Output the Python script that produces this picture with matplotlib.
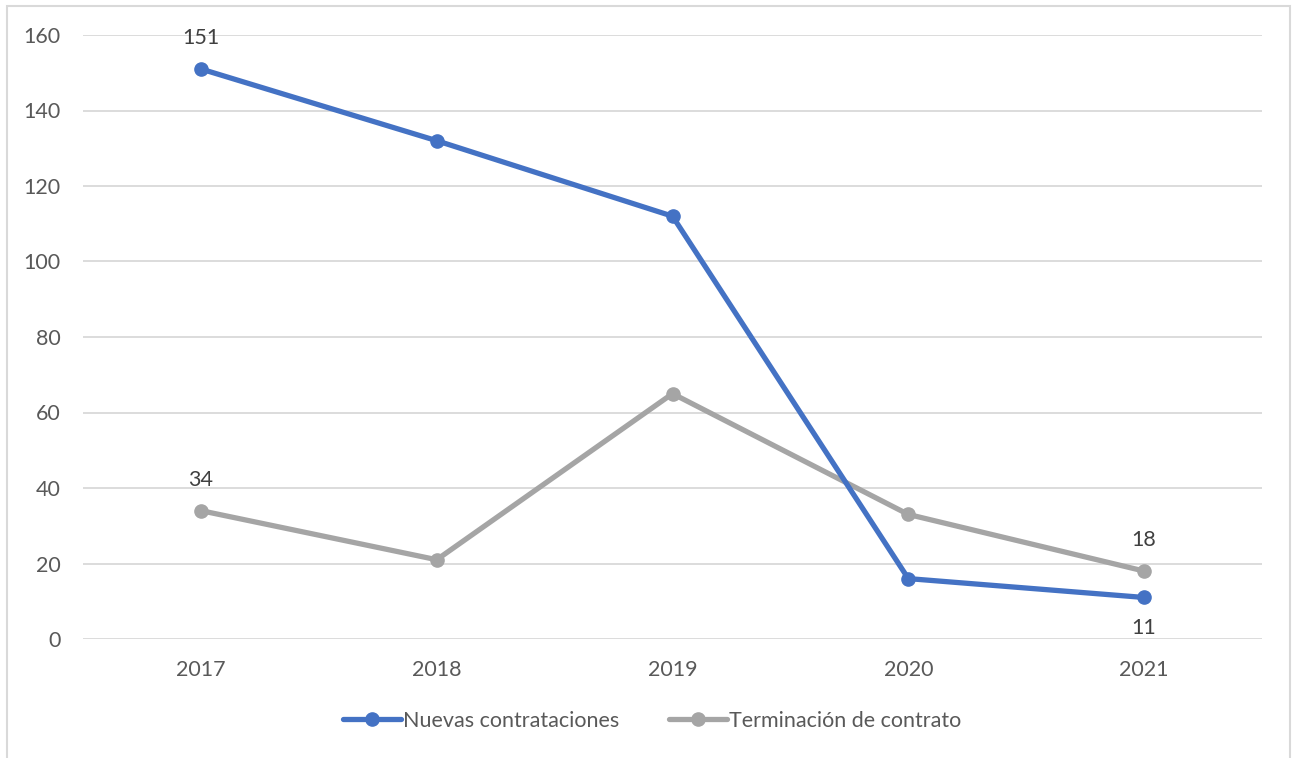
import matplotlib.pyplot as plt
from matplotlib.patches import Rectangle

# data
years = ['2017', '2018', '2019', '2020', '2021']
nuevas = [151, 132, 112, 16, 11]
terminacion = [34, 21, 65, 33, 18]

# which points carry a value label: index -> above the point?
labels_nuevas = {0: True, 4: False}
labels_term = {0: True, 4: True}

blue = '#4472C4'
gray = '#A5A5A5'
text_col = '#595959'
fs = 15.5

plt.rcParams['font.family'] = ['Lato', 'DejaVu Sans']
plt.rcParams['font.size'] = fs

fig = plt.figure(figsize=(12.92, 7.58), dpi=100)
ax = fig.add_axes([83 / 1292, 1 - 639 / 758, (1262 - 83) / 1292, (639 - 35) / 758])

x = list(range(len(years)))
ax.plot(x, nuevas, color=blue, lw=3.8, marker='o', ms=9.5, label='Nuevas contrataciones',
        solid_capstyle='round', zorder=3)
ax.plot(x, terminacion, color=gray, lw=3.8, marker='o', ms=9.5, label='Terminación de contrato',
        solid_capstyle='round', zorder=2)

for i, above in labels_nuevas.items():
    ax.annotate(str(nuevas[i]), (x[i], nuevas[i]), xytext=(0, 22 if above else -22),
                textcoords='offset points', ha='center', va='center', color='#404040', fontsize=fs)
for i, above in labels_term.items():
    ax.annotate(str(terminacion[i]), (x[i], terminacion[i]), xytext=(0, 22 if above else -22),
                textcoords='offset points', ha='center', va='center', color='#404040', fontsize=fs)

ax.set_xlim(-0.5, len(years) - 0.5)
ax.set_ylim(0, 160)
ax.set_yticks(range(0, 161, 20))
ax.set_xticks(x)
ax.set_xticklabels(years)
ax.grid(axis='y', color='#D9D9D9', lw=1.3)
ax.set_axisbelow(True)
for s in ax.spines.values():
    s.set_visible(False)
ax.tick_params(axis='both', length=0, colors=text_col, labelsize=fs)
ax.tick_params(axis='y', pad=16)
ax.tick_params(axis='x', pad=15)

fig.legend(loc='center', bbox_to_anchor=(652 / 1292, 1 - 721 / 758), ncol=2, frameon=False,
           fontsize=fs, labelcolor=text_col, handlelength=2.7, handletextpad=0.1,
           columnspacing=2.3)

# chart border
fig.patches.append(Rectangle((7 / 1292, -0.01), (1290 - 7) / 1292, 1 - 6 / 758 + 0.01,
                             transform=fig.transFigure, fill=False, ec='#D9D9D9', lw=1.5))

fig.savefig('out.png', dpi=100)
